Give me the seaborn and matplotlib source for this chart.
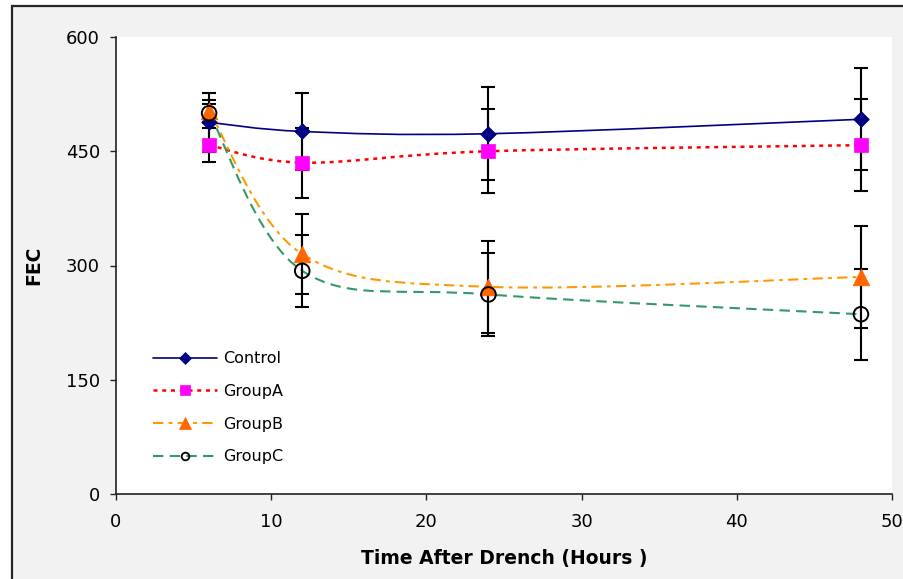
import numpy as np
import pandas as pd
import matplotlib
matplotlib.use("Agg")
import matplotlib.pyplot as plt
from matplotlib.path import Path
from matplotlib.patches import PathPatch, Rectangle
from matplotlib.lines import Line2D
import seaborn as sns

# dados
hours = [6, 12, 24, 48]
control = [488, 476, 473, 492]
group_a = [458, 435, 450, 458]
group_b = [503, 315, 272, 285]
group_c = [500, 293, 262, 236]

err_control = [39, 51, 61, 67]
err_a = [22, 46, 55, 60]
err_b = [14, 52, 60, 67]
err_c = [12, 47, 54, 60]

series_names = ["Control", "GroupA", "GroupB", "GroupC"]

sns.set_style("ticks")
plt.rcParams["font.family"] = ["DejaVu Sans"]
plt.rcParams["text.color"] = "black"
plt.rcParams["axes.labelcolor"] = "black"

df = pd.DataFrame({
    "Hours": hours * 4,
    "FEC": control + group_a + group_b + group_c,
    "err": err_control + err_a + err_b + err_c,
    "Group": np.repeat(series_names, len(hours)),
})

styles = {
    "Control": dict(line="#000080", ls="-", lw=1.2, marker="D", mfc="#000080", mec="#000080", ms=8, lms=6),
    "GroupA": dict(line="#FF0000", ls=(0, (1.6, 1.9)), lw=1.8, marker="s", mfc="#FF00FF", mec="#FF00FF", ms=9.5, lms=7),
    "GroupB": dict(line="#FF9900", ls=(0, (5, 2.5, 1.8, 2.5)), lw=1.5, marker="^", mfc="#FF6600", mec="#FF6600", ms=12, lms=8.5),
    "GroupC": dict(line="#339966", ls=(0, (5, 3)), lw=1.5, marker="o", mfc="none", mec="#000000", ms=10.5, lms=5.5),
}


def smooth_path(xs, ys):
    # curva suavizada estilo Excel (bezier catmull-rom)
    pts = np.column_stack([xs, ys]).astype(float)
    ext = np.vstack([pts[0], pts, pts[-1]])
    verts = [tuple(pts[0])]
    codes = [Path.MOVETO]
    for i in range(1, len(ext) - 2):
        p0, p1, p2, p3 = ext[i - 1], ext[i], ext[i + 1], ext[i + 2]
        c1 = p1 + (p2 - p0) / 6
        c2 = p2 - (p3 - p1) / 6
        verts += [tuple(c1), tuple(c2), tuple(p2)]
        codes += [Path.CURVE4] * 3
    return Path(verts, codes)


fig = plt.figure(figsize=(9.04, 5.79), dpi=100, facecolor="white")
fig.add_artist(Rectangle((12 / 904, -0.05), 1.1, 1 - 6 / 579 + 0.05,
                         transform=fig.transFigure, facecolor="#f2f2f2",
                         edgecolor="#262626", lw=1.6, zorder=-10))
ax = fig.add_axes([116 / 904, 1 - 494 / 579, 776 / 904, 457 / 579])
ax.set_facecolor("white")

for name in series_names:
    st = styles[name]
    sub = df[df["Group"] == name]
    patch = PathPatch(smooth_path(sub["Hours"], sub["FEC"]), facecolor="none",
                      edgecolor=st["line"], lw=st["lw"], linestyle=st["ls"], zorder=2)
    ax.add_patch(patch)
    ax.errorbar(sub["Hours"], sub["FEC"], yerr=sub["err"], fmt="none",
                ecolor="black", elinewidth=1.5, capsize=4.8, capthick=1.5, zorder=3)

for name in series_names:
    st = styles[name]
    sub = df[df["Group"] == name]
    sns.scatterplot(x="Hours", y="FEC", data=sub, ax=ax, marker=st["marker"],
                    s=st["ms"] ** 2, color=st["mfc"] if st["mfc"] != "none" else "none",
                    edgecolor=st["mec"], linewidth=1.4 if name == "GroupC" else 0.5,
                    zorder=4, legend=False)

ax.set_xlim(0, 50)
ax.set_ylim(0, 600)
ax.set_xticks([0, 10, 20, 30, 40, 50])
ax.set_yticks([0, 150, 300, 450, 600])
ax.tick_params(axis="both", labelsize=13, length=4.5, width=1, color="#222222",
               labelcolor="black", direction="out")
ax.tick_params(axis="y", pad=7)
ax.tick_params(axis="x", pad=9)
for side in ["top", "right"]:
    ax.spines[side].set_visible(False)
for side in ["left", "bottom"]:
    ax.spines[side].set_color("#222222")
    ax.spines[side].set_linewidth(1.2)

ax.set_xlabel("Time After Drench (Hours )", fontsize=13.5, fontweight="bold", labelpad=13)
ax.set_ylabel("FEC", fontsize=13.5, fontweight="bold", labelpad=16)

handles = []
for name in series_names:
    st = styles[name]
    handles.append(Line2D([], [], color=st["line"], ls=st["ls"], lw=st["lw"],
                          marker=st["marker"], ms=st["lms"], mfc=st["mfc"],
                          mec=st["mec"], mew=1.3 if name == "GroupC" else 0.5))
ax.legend(handles, series_names, loc="upper left", bbox_to_anchor=(0.048, 0.312),
          frameon=False, fontsize=11.5, labelspacing=1.1, handlelength=4.0,
          handletextpad=0.4, borderpad=0, borderaxespad=0)

fig.savefig("out.png", dpi=100, facecolor=fig.get_facecolor())
